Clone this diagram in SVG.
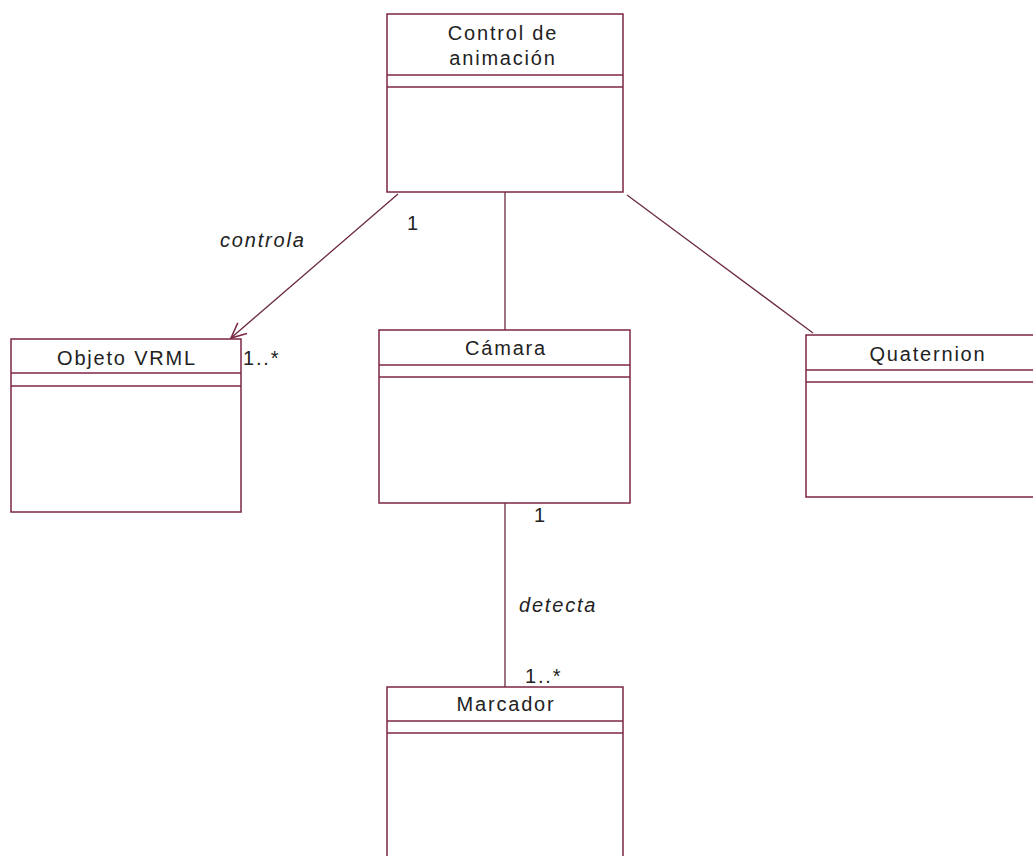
<svg xmlns="http://www.w3.org/2000/svg" width="1033" height="856" viewBox="0 0 1033 856">
<defs>
<style>
.box{fill:#ffffff;stroke:#7d2446;stroke-width:1.5}
.sep{stroke:#7d2446;stroke-width:1.5;fill:none}
.name{font-family:"Liberation Sans",Arial,sans-serif;font-size:20px;letter-spacing:1.8px;fill:#222;text-anchor:middle}
.lbl{font-family:"Liberation Sans",Arial,sans-serif;font-size:20px;letter-spacing:1.8px;fill:#222}
.it{font-style:italic}
.conn{stroke:#6a2a40;stroke-width:1.3;fill:none}
</style>
<marker id="open" markerWidth="20" markerHeight="20" refX="16" refY="8" orient="auto" markerUnits="userSpaceOnUse">
<path d="M1,1 L16,8 L1,15" fill="none" stroke="#7d2446" stroke-width="1.5"/>
</marker>
</defs>
<rect width="1033" height="856" fill="#ffffff"/>
<g id="connectors">
<line class="conn" x1="398" y1="194" x2="231" y2="338" marker-end="url(#open)"/>
<line class="conn" x1="505" y1="192" x2="505" y2="330"/>
<line class="conn" x1="627" y1="195" x2="813" y2="333"/>
<line class="conn" x1="505" y1="503" x2="505" y2="687"/>
<text class="lbl it" x="220" y="247">controla</text>
<text class="lbl" x="407" y="230">1</text>
<text class="lbl" x="243" y="365">1..*</text>
<text class="lbl" x="534" y="522">1</text>
<text class="lbl it" x="519" y="612">detecta</text>
<text class="lbl" x="525" y="683">1..*</text>
</g>
<g id="control">
<rect class="box" x="387" y="14" width="236" height="178"/>
<line class="sep" x1="387" y1="75" x2="623" y2="75"/>
<line class="sep" x1="387" y1="87" x2="623" y2="87"/>
<text class="name" x="503" y="40">Control de</text>
<text class="name" x="503" y="65">animación</text>
</g>
<g id="objeto">
<rect class="box" x="11" y="339" width="230" height="173"/>
<line class="sep" x1="11" y1="373" x2="241" y2="373"/>
<line class="sep" x1="11" y1="386" x2="241" y2="386"/>
<text class="name" x="127" y="365">Objeto VRML</text>
</g>
<g id="camara">
<rect class="box" x="379" y="330" width="251" height="173"/>
<line class="sep" x1="379" y1="365" x2="630" y2="365"/>
<line class="sep" x1="379" y1="377" x2="630" y2="377"/>
<text class="name" x="506" y="355">Cámara</text>
</g>
<g id="quaternion">
<rect class="box" x="806" y="335" width="241" height="162"/>
<line class="sep" x1="806" y1="370" x2="1047" y2="370"/>
<line class="sep" x1="806" y1="382" x2="1047" y2="382"/>
<text class="name" x="928" y="361">Quaternion</text>
</g>
<g id="marcador">
<rect class="box" x="387" y="687" width="236" height="190"/>
<line class="sep" x1="387" y1="721" x2="623" y2="721"/>
<line class="sep" x1="387" y1="733" x2="623" y2="733"/>
<text class="name" x="506" y="711">Marcador</text>
</g>
</svg>
